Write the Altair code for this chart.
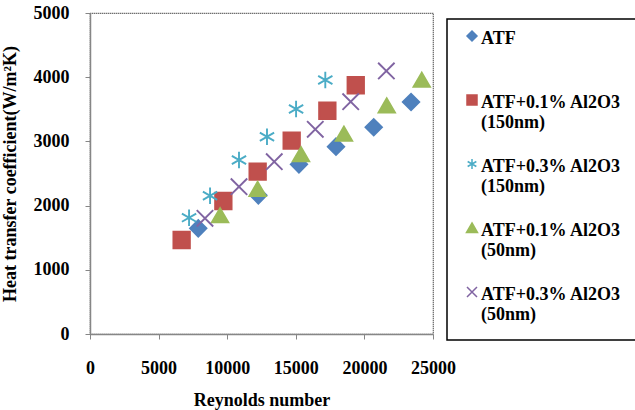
import altair as alt
import pandas as pd

series_names = [
    "ATF",
    "ATF+0.1% Al2O3 (150nm)",
    "ATF+0.3% Al2O3 (150nm)",
    "ATF+0.1% Al2O3 (50nm)",
    "ATF+0.3% Al2O3 (50nm)",
]

re_atf = [7890, 12270, 15230, 17930, 20680, 23400]
h_atf = [1646, 2160, 2643, 2918, 3220, 3614]

re_01_150 = [6680, 9720, 12220, 14700, 17300, 19370]
h_01_150 = [1464, 2072, 2528, 3011, 3478, 3874]

re_03_150 = [7220, 8750, 10860, 12900, 15020, 17150]
h_03_150 = [1812, 2154, 2710, 3073, 3505, 3956]

re_01_50 = [9480, 12220, 15380, 18510, 21630, 24180]
h_01_50 = [1850, 2260, 2800, 3120, 3560, 3960]

re_03_50 = [8380, 10860, 13430, 16420, 19000, 21600]
h_03_50 = [1802, 2294, 2684, 3188, 3618, 4097]

colors = ["#4F81BD", "#C0504D", "#4BACC6", "#9BBB59", "#8064A2"]
shapes = [
    "diamond",
    "square",
    "M0,-1L0,1M-0.87,-0.5L0.87,0.5M-0.87,0.5L0.87,-0.5",
    "triangle-up",
    "M-1,-1L1,1M-1,1L1,-1",
]
# same symbols, raised so that they sit level with the first label line
legend_shapes = [
    "M-1,-1.6L0,-2.6L1,-1.6L0,-0.6Z",
    "M-1,-2.6L1,-2.6L1,-0.6L-1,-0.6Z",
    "M0,-2.6L0,-0.6M-0.87,-2.1L0.87,-1.1M-0.87,-1.1L0.87,-2.1",
    "M0,-2.6L1.1,-0.7L-1.1,-0.7Z",
    "M-1,-2.6L1,-0.6M-1,-0.6L1,-2.6",
]

rows = []
for name, xs, ys in zip(
    series_names,
    [re_atf, re_01_150, re_03_150, re_01_50, re_03_50],
    [h_atf, h_01_150, h_03_150, h_01_50, h_03_50],
):
    for x, y in zip(xs, ys):
        rows.append({"series": name, "re": x, "h": y})
df = pd.DataFrame(rows)

font = "Liberation Serif"
label_expr = (
    "indexof(datum.label, ' (') > 0 ? "
    "[substring(datum.label, 0, indexof(datum.label, ' (')) + '\u00a0\u00a0\u00a0', "
    "substring(datum.label, indexof(datum.label, ' (') + 1)] : [datum.label, ' ']"
)

legend = alt.Legend(
    title=None,
    orient="none",
    legendX=357,
    legendY=6,
    strokeColor="black",
    padding=16,
    labelExpr=label_expr,
    labelFont=font,
    labelFontSize=18,
    labelFontWeight="bold",
    labelColor="black",
    labelBaseline="alphabetic",
    labelLimit=300,
    symbolSize=100,
    symbolStrokeWidth=1.5,
    symbolOpacity=1,
    rowPadding=24,
    labelOffset=0,
)

x_enc = alt.X(
    "re:Q",
    title="Reynolds number",
    scale=alt.Scale(domain=[0, 25000]),
    axis=alt.Axis(values=[0, 5000, 10000, 15000, 20000, 25000], format="d"),
)
y_enc = alt.Y(
    "h:Q",
    title="Heat transfer coefficient(W/m²K)",
    scale=alt.Scale(domain=[0, 5000]),
    axis=alt.Axis(values=[0, 1000, 2000, 3000, 4000, 5000], format="d"),
)

base = alt.Chart(df)

points = base.mark_point(filled=True, size=270, strokeWidth=1.9, opacity=1).encode(
    x=x_enc,
    y=y_enc,
    color=alt.Color("series:N", scale=alt.Scale(domain=series_names, range=colors), legend=None),
    stroke=alt.Stroke("series:N", scale=alt.Scale(domain=series_names, range=colors), legend=None),
    shape=alt.Shape("series:N", scale=alt.Scale(domain=series_names, range=shapes), legend=None),
)

legend_layer = base.mark_point(filled=True, size=1, strokeWidth=1.5, opacity=0).encode(
    x=x_enc,
    y=y_enc,
    color=alt.Color("series:N", scale=alt.Scale(domain=series_names, range=colors), legend=legend),
    stroke=alt.Stroke("series:N", scale=alt.Scale(domain=series_names, range=colors), legend=legend),
    shape=alt.Shape("series:N", scale=alt.Scale(domain=series_names, range=legend_shapes), legend=legend),
)

chart = (
    alt.layer(points, legend_layer)
    .resolve_scale(color="independent", stroke="independent", shape="independent")
    .properties(
        width=343,
        height=321,
        autosize=alt.AutoSizeParams(type="none"),
        padding={"left": 90, "top": 13, "right": 202, "bottom": 76},
    )
    .configure_view(stroke="#333333", strokeWidth=1.2, strokeDash=[1, 1])
    .configure_legend(strokeWidth=1.5)
    .configure_axis(
        grid=False,
        domainColor="#868686",
        domainWidth=1.5,
        tickColor="#868686",
        tickSize=5,
        labelFlush=False,
        labelFont=font,
        labelFontSize=18,
        labelFontWeight="bold",
        labelColor="black",
        titleFont=font,
        titleFontSize=18,
        titleFontWeight="bold",
        titleColor="black",
    )
    .configure_axisX(labelPadding=20, titlePadding=14)
    .configure_axisY(labelPadding=16, titlePadding=14)
)

chart.save("out.html", embed_options={"renderer": "svg", "actions": False})
